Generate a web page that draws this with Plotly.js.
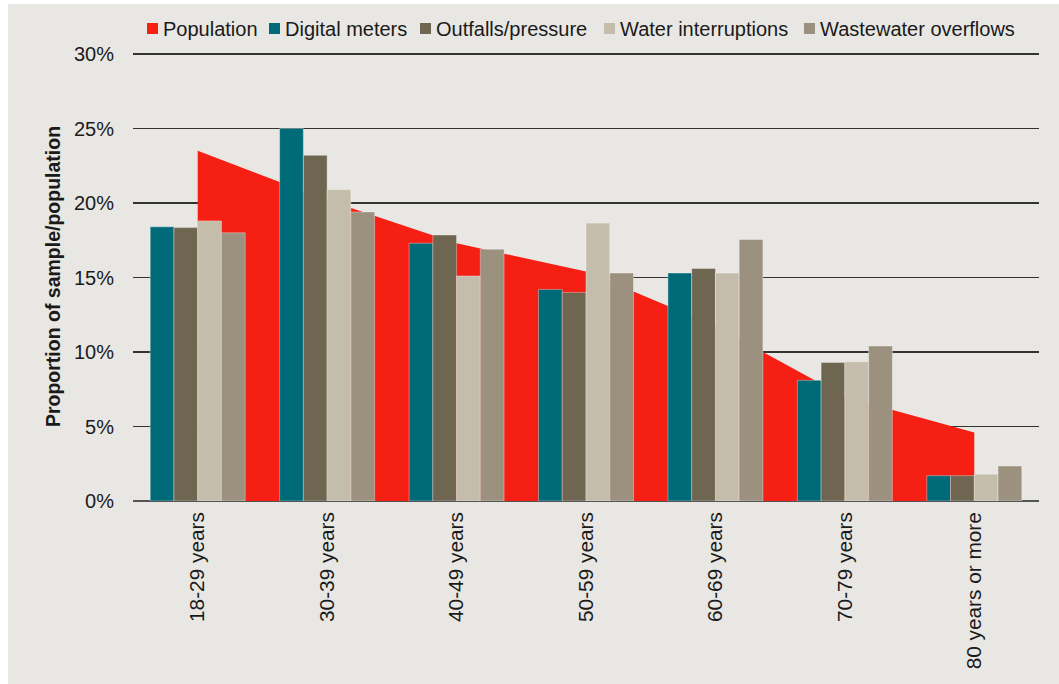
<!DOCTYPE html>
<html>
<head>
<meta charset="utf-8">
<script src="https://cdn.plot.ly/plotly-3.0.1.min.js"></script>
<style>
  html, body { margin: 0; padding: 0; background: #ffffff; width: 1059px; height: 684px; overflow: hidden; }
  #panel { position: absolute; left: 8px; top: 4px; width: 1051px; height: 680px; background: #e8e7e3; }
  #chart { position: absolute; left: 0; top: 0; width: 1059px; height: 684px; }
</style>
</head>
<body>
<div id="panel"></div>
<div id="chart"></div>
<script>
// ---- Data ----
const categories = ['18-29 years', '30-39 years', '40-49 years', '50-59 years', '60-69 years', '70-79 years', '80 years or more'];
const population = [23.5, 20.2, 17.3, 15.4, 11.75, 7.0, 4.6];
const digitalMeters = [18.4, 25.0, 17.3, 14.2, 15.3, 8.1, 1.7];
const outfallsPressure = [18.35, 23.2, 17.85, 14.0, 15.6, 9.3, 1.7];
const waterInterruptions = [18.8, 20.9, 15.1, 18.65, 15.3, 9.35, 1.8];
const wastewaterOverflows = [18.0, 19.4, 16.9, 15.3, 17.55, 10.4, 2.35];

const seriesNames = ['Population', 'Digital meters', 'Outfalls/pressure', 'Water interruptions', 'Wastewater overflows'];
const yTickVals = [0, 5, 10, 15, 20, 25, 30];

// ---- Styles ----
const colors = ['#f61f14', '#006b78', '#6e6650', '#c5bdab', '#9c917e'];
const FONT = '"Liberation Sans", Arial, Helvetica, sans-serif';
const TEXT = '#1a1a1a';

// plot area in pixels (30% sits at y=54, 0% at y=501; plot top a bit above so the 30% grid line shows)
const PL = 133, PR = 1039, PTOP = 52, PB = 501;
const Y30 = 54;
const yMax = 30 * (PB - PTOP) / (PB - Y30);
const px2x = p => (p - PL) / (PR - PL);
const px2y = p => (PB - p) / (PB - PTOP);

const barSeries = [digitalMeters, outfallsPressure, waterInterruptions, wastewaterOverflows];

const traces = [];
traces.push({
  type: 'scatter',
  mode: 'lines',
  x: categories,
  y: population,
  xaxis: 'x',
  yaxis: 'y',
  fill: 'tozeroy',
  fillcolor: colors[0],
  line: { width: 0, color: colors[0] },
  name: seriesNames[0],
  showlegend: false,
  hoverinfo: 'skip'
});
barSeries.forEach((vals, i) => {
  traces.push({
    type: 'bar',
    x: categories,
    y: vals,
    xaxis: 'x2',
    yaxis: 'y',
    name: seriesNames[i + 1],
    marker: { color: colors[i + 1], line: { color: 'rgba(255,255,255,0.35)', width: 1 } },
    showlegend: false
  });
});

// hand-made legend (swatch + label), placed like the reference
const legendSwatchPx = [147, 269, 420, 604, 804];
const legendTextPx = [162, 284, 435, 619, 819];
const shapes = [];
const annotations = [];
seriesNames.forEach((nm, i) => {
  shapes.push({
    type: 'rect', xref: 'paper', yref: 'paper',
    x0: px2x(legendSwatchPx[i]), x1: px2x(legendSwatchPx[i] + 11),
    y0: px2y(34), y1: px2y(23),
    fillcolor: colors[i], line: { width: 0 }
  });
  annotations.push({
    xref: 'paper', yref: 'paper',
    x: px2x(legendTextPx[i]), y: px2y(28.5),
    xanchor: 'left', yanchor: 'middle',
    text: nm, showarrow: false, borderpad: 0,
    font: { family: FONT, size: 20, color: TEXT }
  });
});

const layout = {
  width: 1059,
  height: 684,
  margin: { l: PL, r: 1059 - PR, t: PTOP, b: 684 - PB, pad: 0 },
  paper_bgcolor: 'rgba(0,0,0,0)',
  plot_bgcolor: 'rgba(0,0,0,0)',
  barmode: 'group',
  bargap: 0.266,
  bargroupgap: 0,
  showlegend: false,
  font: { family: FONT, size: 20, color: TEXT },
  xaxis: {
    type: 'category',
    range: [-0.5, categories.length - 0.5],
    tickangle: -90,
    showgrid: false,
    zeroline: false,
    showline: false,
    ticks: '',
    ticklabelstandoff: 6,
    tickfont: { family: FONT, size: 20.8, color: TEXT }
  },
  xaxis2: {
    type: 'category',
    overlaying: 'x',
    range: [-0.5, categories.length - 0.5],
    visible: false
  },
  yaxis: {
    range: [0, yMax],
    tickvals: yTickVals,
    ticktext: yTickVals.map(v => v + '%'),
    showgrid: true,
    gridcolor: '#333333',
    gridwidth: 1.5,
    zeroline: true,
    zerolinecolor: '#555555',
    zerolinewidth: 2,
    showline: false,
    ticks: '',
    ticklabelstandoff: 18,
    tickfont: { family: FONT, size: 20, color: TEXT },
    title: {
      text: 'Proportion of sample/population',
      standoff: 8,
      font: { family: FONT, size: 19.5, color: TEXT, weight: 'bold' }
    }
  },
  shapes: shapes,
  annotations: annotations
};

Plotly.newPlot('chart', traces, layout, { displayModeBar: false, staticPlot: true });
</script>
</body>
</html>
